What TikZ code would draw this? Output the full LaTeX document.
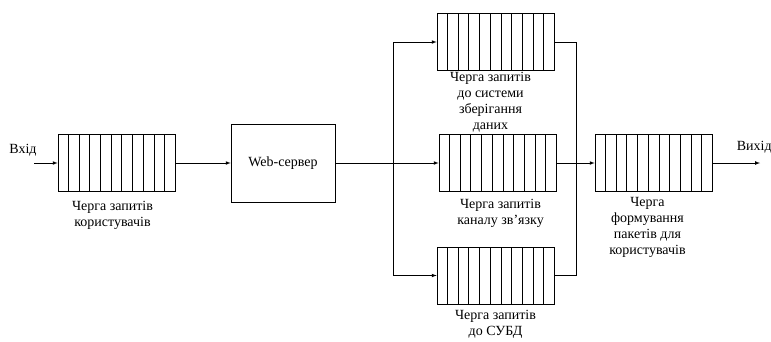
\documentclass[tikz,border=0pt]{standalone}
\usepackage{fontspec}
\setmainfont{Liberation Serif}
\usetikzlibrary{calc}
\usetikzlibrary{positioning}
\usetikzlibrary{arrows}

\begin{document}
\begin{tikzpicture}[x=1pt, y=-1pt, line width=0.7pt, >=latex,
  queue/.style={draw, minimum width=117pt, minimum height=57pt, inner sep=0pt},
  caption/.style={align=center, inner sep=0pt, font=\fontsize{14}{16}\selectfont}]
\def \cells {11} % number of cells in every queue
\useasboundingbox (0,0) rectangle (771,341);

% queues and server
\node[queue] (users) at (116.5,163) {};
\node[draw, minimum width=104pt, minimum height=78pt, font=\fontsize{14}{16}\selectfont] (web) at (283,163) {Web-сервер};
\node[queue] (storage) at (495.5,42) {};
\node[queue] (channel) at (497.5,163) {};
\node[queue] (dbms) at (495.5,275.5) {};
\node[queue] (packets) at (653.5,163) {};

\foreach \q in {users,storage,channel,dbms,packets}
{
  \foreach \i in {1,...,10}
    \draw ($(\q.south west)!\i/\cells!(\q.south east)$) -- ($(\q.north west)!\i/\cells!(\q.north east)$);
}

% captions
\node[caption, below=9pt of users, xshift=-4pt] (usersText) {Черга запитів\\користувачів};
\node[caption, below=1pt of storage, xshift=-5pt] (storageText) {Черга запитів\\до системи\\зберігання\\даних};
\node[caption, below=7pt of channel, xshift=3pt] (channelText) {Черга запитів\\каналу зв’язку};
\node[caption, below=6pt of dbms] (dbmsText) {Черга запитів\\до СУБД};
\node[caption, below=5pt of packets, xshift=-6pt] (packetsText) {Черга\\формування\\пакетів для\\користувачів};

\node[caption] (inText) at (23,150) {Вхід};
\node[caption, anchor=east] (outText) at (772,147) {Вихід};

% connectors
\coordinate (in) at (34,163);
\coordinate (split) at (393,163);
\coordinate (join) at (576,163);
\coordinate (out) at (760,163);

\draw[->] (in) -- (users);
\draw[->] (users) -- (web);
\draw (web) -- (split);
\draw[->] (split) -- (channel);
\draw (split |- storage) -- (split |- dbms);
\draw[->] (split |- storage) -- (storage);
\draw[->] (split |- dbms) -- (dbms);
\draw (storage) -| (join);
\draw (dbms) -| (join);
\draw (channel) -- (join);
\draw[->] (join) -- (packets);
\draw[->] (packets) -- (out);
\end{tikzpicture}
\end{document}
